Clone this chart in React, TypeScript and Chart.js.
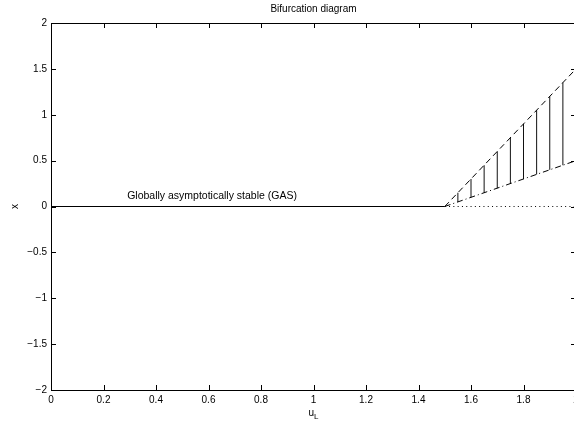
import React, { useEffect, useRef } from "react";
import { Chart, registerables } from "chart.js";

Chart.register(...registerables);

// Data (u_L on x axis, x on y axis)
const uStable = [0, 1.5];
const xStable = [0, 0];
const uUnstable = [1.5, 2];
const xUnstable = [0, 0];
const uUpper = [1.5, 2];
const xUpper = [0, 1.5];
const uLower = [1.5, 2];
const xLower = [0, 0.5];
const uVert = [1.55, 1.6, 1.65, 1.7, 1.75, 1.8, 1.85, 1.9, 1.95];
const vertTop = [0.15, 0.3, 0.45, 0.6, 0.75, 0.9, 1.05, 1.2, 1.35];
const vertBottom = [0.05, 0.1, 0.15, 0.2, 0.25, 0.3, 0.35, 0.4, 0.45];

const titleText = "Bifurcation diagram";
const annotationText = "Globally asymptotically stable (GAS)";
const annotationU = 0.29;
const annotationX = 0.11;
const yLabel = "x";
const xLabelMain = "u";
const xLabelSub = "L";

const FONT = "'Liberation Sans', Arial, Helvetica, sans-serif";

const pts = (xs: number[], ys: number[]) => xs.map((x, i) => ({ x, y: ys[i] }));

const fmt = (v: number) => {
  const r = Math.round(v * 10) / 10;
  return String(r).replace("-", "\u2212");
};

const framePlugin = {
  id: "matlabFrame",
  afterDraw(chart: any) {
    const { ctx, chartArea } = chart;
    const { left, right, top, bottom } = chartArea;
    const xs = chart.scales.x;
    const ys = chart.scales.y;
    ctx.save();
    ctx.strokeStyle = "#000";
    ctx.lineWidth = 1;
    ctx.beginPath();
    ctx.rect(Math.round(left) + 0.5, Math.round(top) + 0.5, Math.round(right - left), Math.round(bottom - top));
    ctx.stroke();
    const tl = 5;
    ctx.beginPath();
    xs.ticks.forEach((t: any) => {
      const px = Math.round(xs.getPixelForValue(t.value)) + 0.5;
      ctx.moveTo(px, bottom);
      ctx.lineTo(px, bottom - tl);
      ctx.moveTo(px, top);
      ctx.lineTo(px, top + tl);
    });
    ys.ticks.forEach((t: any) => {
      const py = Math.round(ys.getPixelForValue(t.value)) + 0.5;
      ctx.moveTo(left, py);
      ctx.lineTo(left + tl, py);
      ctx.moveTo(right, py);
      ctx.lineTo(right - tl, py);
    });
    ctx.stroke();

    const cx = (left + right) / 2;
    ctx.fillStyle = "#000";
    ctx.font = `10px ${FONT}`;
    ctx.textAlign = "center";
    ctx.textBaseline = "middle";
    ctx.fillText(titleText, cx, 9);

    // x label with subscript
    ctx.font = `10px ${FONT}`;
    ctx.textAlign = "left";
    const wMain = ctx.measureText(xLabelMain).width;
    ctx.font = `8px ${FONT}`;
    const wSub = ctx.measureText(xLabelSub).width;
    const startX = cx - (wMain + wSub) / 2;
    ctx.font = `10px ${FONT}`;
    ctx.fillText(xLabelMain, startX, 413);
    ctx.font = `8px ${FONT}`;
    ctx.fillText(xLabelSub, startX + wMain, 417);

    // annotation
    ctx.font = `10.5px ${FONT}`;
    ctx.textAlign = "left";
    ctx.fillText(annotationText, xs.getPixelForValue(annotationU), ys.getPixelForValue(annotationX));
    ctx.restore();
  },
};

export default function App() {
  const canvasRef = useRef<HTMLCanvasElement>(null);

  useEffect(() => {
    const canvas = canvasRef.current;
    if (!canvas) return;
    const vertData: any[] = [];
    uVert.forEach((u, i) => {
      vertData.push({ x: u, y: vertBottom[i] });
      vertData.push({ x: u, y: vertTop[i] });
      vertData.push({ x: u, y: null });
    });
    const common = { pointRadius: 0, borderColor: "#000", borderWidth: 1, fill: false, tension: 0 };
    const chart = new Chart(canvas, {
      type: "line",
      data: {
        datasets: [
          { ...common, data: pts(uStable, xStable) },
          { ...common, data: pts(uUnstable, xUnstable), borderDash: [1, 3.3] },
          { ...common, data: pts(uUpper, xUpper), borderDash: [6, 4] },
          { ...common, data: pts(uLower, xLower), borderDash: [6, 3, 1, 3] },
          { ...common, data: vertData, spanGaps: false, borderColor: "#111" },
        ],
      },
      options: {
        animation: false,
        responsive: false,
        devicePixelRatio: 1,
        layout: { padding: { top: 23, right: 24, left: 0, bottom: 0 } },
        plugins: { legend: { display: false }, tooltip: { enabled: false }, title: { display: false } },
        scales: {
          x: {
            type: "linear",
            min: 0,
            max: 2,
            grid: { display: false, tickLength: 0 },
            border: { display: false },
            ticks: {
              stepSize: 0.2,
              color: "#000",
              font: { family: FONT, size: 10 },
              padding: 4,
              maxRotation: 0,
              autoSkip: false,
              callback: (v: any) => fmt(Number(v)),
            },
            afterFit: (s: any) => {
              s.height = 31;
            },
          },
          y: {
            type: "linear",
            min: -2,
            max: 2,
            grid: { display: false, tickLength: 0 },
            border: { display: false },
            title: { display: true, text: yLabel, color: "#000", font: { family: FONT, size: 10 }, padding: { top: 9, bottom: 0 } },
            ticks: {
              stepSize: 0.5,
              color: "#000",
              font: { family: FONT, size: 10 },
              padding: 4,
              autoSkip: false,
              callback: (v: any) => fmt(Number(v)),
            },
            afterFit: (s: any) => {
              s.width = 51;
            },
          },
        },
      },
      plugins: [framePlugin],
    } as any);
    return () => chart.destroy();
  }, []);

  return (
    <div style={{ position: "absolute", left: 0, top: 0, width: 574, height: 421, overflow: "hidden", background: "#fff" }}>
      <canvas ref={canvasRef} width={600} height={421} style={{ display: "block", width: 600, height: 421 }} />
    </div>
  );
}
